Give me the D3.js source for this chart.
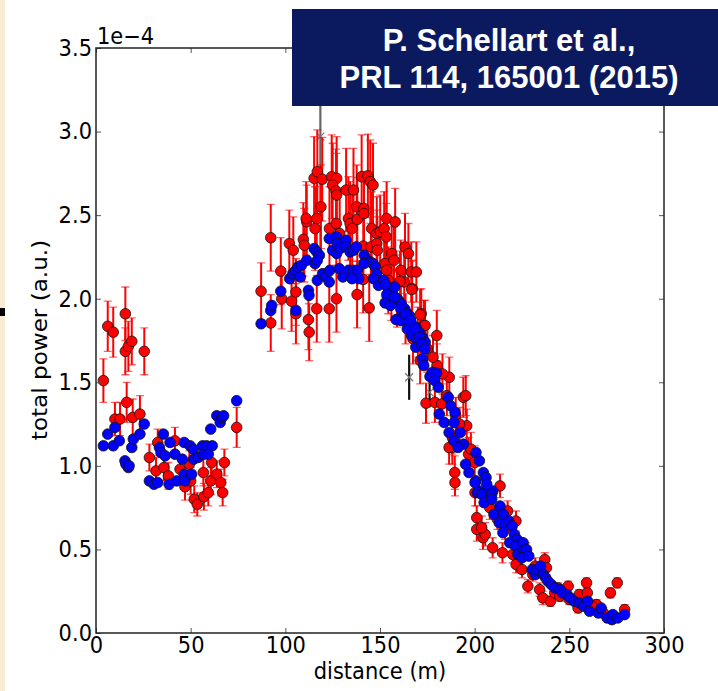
<!DOCTYPE html>
<html>
<head>
<meta charset="utf-8">
<title>total power vs distance</title>
<style>
  body { margin: 0; background: #fff; }
  svg { display: block; }
</style>
</head>
<body>
<svg id="chart" width="718" height="691"></svg>
<script src="https://d3js.org/d3.v7.min.js"></script>
<script>
// values in units of 1e-4, distance in m
// red: [distance, power, error]
const redPoints = [
  [3.9,1.51,0.13],[6.2,1.835,0.15],[9.1,1.80,0.15],[10,1.28,0.10],[12.7,1.28,0.10],[15.5,1.91,0.16],
  [15.5,1.685,0.14],[16.2,1.38,0.12],[17.1,1.715,0.15],[18.9,1.745,0.14],[19.4,1.29,0.11],[23.2,1.31,0.11],
  [25.5,1.685,0.14],[28.2,1.05,0.08],[31.7,0.97,0.08],[32.6,1.14,0.08],[35.9,0.99,0.08],[38.2,0.94,0.08],
  [41.7,1.15,0.08],[44.4,0.98,0.08],[47,0.875,0.08],[49.3,1.01,0.08],[50,0.91,0.08],[51.9,0.80,0.08],
  [53.5,0.77,0.07],[56.7,0.96,0.08],[57,0.815,0.08],[59.3,0.84,0.08],[60.6,0.91,0.08],[61.1,1.02,0.08],
  [63.8,0.95,0.08],[65.9,0.90,0.08],[66.9,0.84,0.08],[67.8,1.02,0.08],[74.3,1.23,0.12],
  [87.2,2.045,0.17],[92.3,2.365,0.2],[92.3,1.855,0.17],[97.6,2.165,0.2],[98.1,2.0,0.18],[102.1,2.33,0.2],
  [104.2,2.29,0.2],[103.3,1.985,0.18],[105.6,2.04,0.2],[105.6,1.91,0.18],[109.5,2.355,0.22],[110,2.32,0.22],
  [111.3,2.46,0.22],[111,2.48,0.22],[112.2,1.875,0.18],[112.6,1.80,0.17],[115.7,2.42,0.25],[116.6,2.48,0.25],
  [115.2,2.72,0.25],[116.9,2.76,0.25],[119.5,2.715,0.25],[118.8,2.55,0.25],[116.6,1.94,0.2],[124.5,2.73,0.25],
  [127.1,2.72,0.25],[125,2.68,0.25],[126.8,2.645,0.25],[127.1,2.62,0.25],[123.3,2.42,0.25],[126.9,2.45,0.25],
  [128.7,2.39,0.25],[132.1,2.65,0.25],[136,2.65,0.25],[133.3,2.48,0.25],[134.2,2.45,0.25],[137.7,2.55,0.25],
  [138,2.475,0.25],[135.3,2.42,0.25],[137.9,2.025,0.2],[140.3,2.73,0.25],[143.6,2.735,0.25],[144.9,2.70,0.25],
  [146.3,2.68,0.25],[141.5,2.54,0.22],[141.5,2.51,0.22],[141.2,2.315,0.22],[144.3,1.945,0.2],[145.6,2.42,0.22],
  [148.3,2.39,0.22],[150.1,2.40,0.22],[152.2,2.42,0.22],[153.3,2.37,0.2],[153.5,2.48,0.22],[158,2.46,0.2],
  [145.2,2.31,0.2],[148.3,2.33,0.2],[148.6,2.29,0.2],[152.6,2.21,0.2],[156.2,2.27,0.2],[157.4,2.23,0.2],
  [153.5,2.17,0.2],[154.4,2.11,0.2],[163.2,2.31,0.2],[165,2.27,0.18],[161,2.17,0.18],[162.8,2.10,0.18],
  [166.5,2.16,0.18],[169.2,2.16,0.18],[167,2.06,0.17],[171.8,1.91,0.15],[173.2,1.84,0.15],[180,1.78,0.15],
  [123.2,1.94,0.2],[127,2.0,0.2],[141.1,2.115,0.2],[160.6,2.105,0.18],[166.8,2.055,0.17],[171.2,1.905,0.15],
  [173.8,1.84,0.15],[163.5,1.88,0.15],[167.4,1.76,0.15],[171.2,1.63,0.14],[174.3,1.375,0.12],[180.1,1.60,0.13],
  [186.6,1.53,0.12],[179,1.38,0.12],[182.6,1.37,0.12],[185.3,1.42,0.12],[194,1.41,0.12],[195.3,1.42,0.12],
  [195.8,1.24,0.1],[188.2,1.11,0.1],[189.5,0.96,0.1],[186.5,1.11,0.1],[196.8,1.07,0.1],[188.2,1.17,0.1],
  [156,2.05,0.18],[159,2.0,0.17],[170,1.8,0.15],[175,1.7,0.14],[178,1.65,0.13],[183,1.55,0.12],
  [190,1.30,0.11],[192,1.25,0.1],[198,1.1,0.1],[200,1.02,0.1],
  [189.6,0.90,0.08],[200.2,0.84,0.08],[201.1,0.69,0.07],[201.1,0.62,0.07],[204.4,0.57,0.07],[205.6,0.59,0.07],
  [203.7,0.63,0.07],[213.4,0.88,0.07],[209.5,0.51,0.06],[214.7,0.48,0.06],[217.4,0.73,0.06],[221.8,0.67,0.06],
  [220.1,0.47,0.05],[221.9,0.41,0.05],[225,0.38,0.05],[227.1,0.49,0.05],[228.1,0.28,0.04],[230.7,0.35,0.04],
  [234.3,0.26,0.04],[236,0.21,0.04],[237,0.44,0.04],[237.9,0.39,0.04],[240,0.19,0.03],[242.3,0.24,0.03],
  [245,0.22,0.03],[249.4,0.28,0.03],[255.2,0.23,0.03],[254.6,0.15,0.03],[259.1,0.30,0.03],[259.5,0.24,0.03],
  [264.4,0.17,0.03],[271.7,0.24,0.03],[275.3,0.30,0.03],[279.2,0.14,0.03],
  [208,0.75,0.07],[212,0.68,0.06],[216,0.62,0.06],[224,0.52,0.05],[232,0.40,0.05],[244,0.27,0.03],
  [250,0.20,0.03],[262,0.16,0.03],[268,0.12,0.03]
];

// blue: [distance, power]
const bluePoints = [
  [3.9,1.12],[6.2,1.19],[9.1,1.12],[10,1.23],[12.3,1.15],[15.3,1.03],[15.8,1.01],[17.1,0.99],[17.5,1.0],
  [18.9,1.11],[19.7,1.16],[23.2,1.19],[25.5,1.25],[28.2,0.91],[30.6,0.89],[32.6,0.90],[33.5,1.11],[35.6,1.19],
  [34.3,1.08],[36.5,1.06],[38.6,0.89],[39.1,1.14],[41.7,1.07],[42.6,0.91],[45.6,1.04],[46.6,1.14],[46.6,0.95],
  [47,0.91],[49.7,1.12],[50.5,0.95],[51.4,1.10],[51.6,1.04],[53.9,1.05],[56.3,1.12],[56.7,1.07],[58.4,1.12],
  [59.3,1.07],[60.6,1.22],[61.4,1.12],[63.8,1.30],[65.6,1.26],[66.5,1.29],[67.4,1.30],[74.3,1.39],
  [87.2,1.85],[92.3,1.93],[92.8,1.96],[97.6,2.045],[102.3,2.12],[104,2.15],[105.5,2.17],[106.7,2.19],
  [108.5,2.20],[107.9,2.13],[105.6,1.93],[111.3,2.23],[112.2,2.05],[112.5,2.02],[115.2,2.30],[116.6,2.28],
  [118,2.26],[115.7,2.21],[116.9,2.23],[116.9,2.11],[119.7,2.15],[121.4,2.13],[123.2,2.10],[123.5,2.17],
  [123.2,2.36],[125,2.29],[127.1,2.37],[127.4,2.33],[127.1,2.27],[128.9,2.30],[128.5,2.18],[130.4,2.13],
  [132.1,2.35],[132.1,2.31],[134.2,2.28],[136,2.29],[137.5,2.31],[133.4,2.17],[136,2.17],[138,2.17],
  [138.7,2.12],[135.2,2.12],[141.7,2.26],[143.2,2.23],[144.9,2.22],[141.5,2.21],[146.3,2.21],[147.5,2.19],
  [148.3,2.15],[146.6,2.12],[149.2,2.08],[152,2.11],[153.3,2.08],[154.6,2.05],[156,2.02],[157.7,2.07],
  [158.5,2.00],[153.7,1.98],[159.8,1.99],[161.2,1.97],[163,1.94],[163.8,1.92],[159.8,1.88],[161.6,1.87],
  [165.4,1.90],[166.2,1.87],[167.1,1.84],[168.9,1.83],[170.6,1.80],[172.4,1.77],[173.9,1.74],
  [152.7,2.085],[153.6,2.025],[152.7,1.975],[155.5,1.96],[157.8,2.01],[158.5,1.875],[160.9,1.94],[160.9,1.87],
  [163.3,1.91],[164.4,1.82],[166.1,1.87],[166.7,1.78],[168.4,1.82],[169.3,1.76],[170.8,1.77],[168.9,1.71],
  [171.9,1.73],[173.7,1.70],[172.4,1.64],[173.1,1.60],[176.4,1.535],[177.8,1.56],[179.9,1.555],[179,1.51],
  [180.8,1.47],[186.1,1.41],[187.3,1.36],[189.6,1.32],[181.3,1.31],[183.9,1.26],[189.1,1.26],[186.5,1.20],
  [192.4,1.20],[189.1,1.15],[194.1,1.13],[191.2,1.11],[200.7,1.08],[202.5,1.03],[195.2,1.01],[197,0.96],
  [204.6,0.96],[206,0.93],[200.7,0.91],[202.5,0.85],[205.2,0.84],[207.8,0.85],[209.6,0.85],
  [200.2,0.90],[201.4,0.84],[203.7,0.83],[205,0.78],[206.4,0.89],[209,0.83],[209,0.80],[210.2,0.71],
  [213.4,0.76],[213,0.66],[215.2,0.71],[216.1,0.64],[214.9,0.60],[218,0.67],[219.8,0.64],[218.5,0.54],
  [221,0.59],[222.4,0.56],[221.5,0.52],[222.8,0.47],[225.6,0.54],[226,0.49],[227.4,0.50],[225,0.45],
  [228.6,0.46],[230.4,0.38],[232.1,0.35],[233,0.38],[234.8,0.40],[236.3,0.35],[237.5,0.33],[238.7,0.31],
  [240.5,0.29],[242.3,0.27],[245.1,0.26],[246.4,0.24],[248.7,0.23],[250.5,0.21],[252.6,0.19],[255.3,0.18],
  [257.6,0.16],[259.7,0.19],[260.7,0.13],[265.3,0.12],[266.8,0.15],[270,0.09],[272.5,0.08],[273,0.11],
  [275.6,0.09],[279.2,0.11]
];

// grey crosses: [distance, power, error]
const crossPoints = [[118.5,2.97,0.7],[165.4,1.53,0.135],[176.2,1.44,0.09]];

const xTicks = [0,50,100,150,200,250,300];
const yTicks = [0,0.5,1.0,1.5,2.0,2.5,3.0,3.5];

const mLeft = 96, mRight = 664, mTop = 48, mBottom = 633;
const stretch = 1.1; // the source figure is slightly stretched vertically

const svg = d3.select("#chart");

// slide background bits on the left edge
svg.append("rect").attr("x",0).attr("y",0).attr("width",5).attr("height",691).attr("fill","#f7ebd3");
svg.append("rect").attr("x",0).attr("y",308).attr("width",5).attr("height",8).attr("fill","#000");

const x = d3.scaleLinear().domain([0,300]).range([mLeft,mRight]);
const y = d3.scaleLinear().domain([0,3.5]).range([mBottom,mTop]);

svg.append("defs").append("clipPath").attr("id","plotclip")
  .append("rect").attr("x",mLeft).attr("y",mTop).attr("width",mRight-mLeft).attr("height",mBottom-mTop);

const plot = svg.append("g").attr("clip-path","url(#plotclip)");

// crosses with their error bars
const cross = plot.append("g");
cross.selectAll("line").data(crossPoints).join("line")
  .attr("x1",d=>x(d[0])).attr("x2",d=>x(d[0]))
  .attr("y1",d=>y(d[1]-d[2])).attr("y2",d=>y(d[1]+d[2]))
  .attr("stroke",(d,i)=>i===0?"#666":"#111").attr("stroke-width",2.2);
cross.selectAll("path").data(crossPoints).join("path")
  .attr("d",d=>{const cx=x(d[0]),cy=y(d[1]),s=4;return `M${cx-s},${cy-s}L${cx+s},${cy+s}M${cx-s},${cy+s}L${cx+s},${cy-s}`;})
  .attr("stroke","#777").attr("stroke-width",1.2).attr("fill","none");

// red error bars
const bars = plot.append("g").attr("stroke","#ff0000");
bars.selectAll("line").data(redPoints).join("line")
  .attr("x1",d=>x(d[0])).attr("x2",d=>x(d[0]))
  .attr("y1",d=>y(d[1]-d[2])).attr("y2",d=>y(d[1]+d[2]))
  .attr("stroke-width",2);
bars.selectAll("path").data(redPoints).join("path")
  .attr("d",d=>{const cx=x(d[0]);return `M${cx-4},${y(d[1]-d[2])}H${cx+4}M${cx-4},${y(d[1]+d[2])}H${cx+4}`;})
  .attr("stroke-width",1.3).attr("stroke-opacity",0.6).attr("fill","none");

plot.append("g").selectAll("circle").data(redPoints).join("circle")
  .attr("cx",d=>x(d[0])).attr("cy",d=>y(d[1])).attr("r",5.3)
  .attr("fill","#ff0000").attr("stroke","#111").attr("stroke-width",0.8);

plot.append("g").selectAll("circle").data(bluePoints).join("circle")
  .attr("cx",d=>x(d[0])).attr("cy",d=>y(d[1])).attr("r",5.3)
  .attr("fill","#0000ff").attr("stroke","#111").attr("stroke-width",0.8);

// axes, ticks pointing inward on all sides
const font = "DejaVu Sans, sans-serif";
const fmt = d3.format(".1f");

const gx = svg.append("g").attr("transform",`translate(0,${mBottom})`)
  .call(d3.axisBottom(x).tickValues(xTicks).tickSize(-5).tickPadding(3).tickFormat(d3.format("d")));
const gy = svg.append("g").attr("transform",`translate(${mLeft},0)`)
  .call(d3.axisLeft(y).tickValues(yTicks).tickSize(-5).tickPadding(4).tickFormat(fmt));
const gt = svg.append("g").attr("transform",`translate(0,${mTop})`)
  .call(d3.axisTop(x).tickValues(xTicks).tickSize(-5).tickFormat(""));
const gr = svg.append("g").attr("transform",`translate(${mRight},0)`)
  .call(d3.axisRight(y).tickValues(yTicks).tickSize(-5).tickFormat(""));

[gx,gy,gt,gr].forEach(g=>{
  g.select(".domain").remove();
  g.selectAll(".tick line").attr("stroke","#555").attr("stroke-width",1);
  g.selectAll(".tick text").attr("fill","#000").attr("transform",`scale(1,${stretch})`)
    .style("font-family",font).style("font-size","21px");
});

svg.append("rect").attr("x",mLeft).attr("y",mTop).attr("width",mRight-mLeft).attr("height",mBottom-mTop)
  .attr("fill","none").attr("stroke","#222").attr("stroke-width",1.5);

svg.append("text").attr("transform",`translate(${mLeft+1},44) scale(1,${stretch})`)
  .style("font-family",font).style("font-size","21px").text("1e\u22124");

svg.append("text").attr("transform",`translate(${(mLeft+mRight)/2},679) scale(1,${stretch})`).attr("text-anchor","middle")
  .style("font-family",font).style("font-size","21px").text("distance (m)");

svg.append("text").attr("transform",`translate(47,340) scale(1,${stretch}) rotate(-90)`).attr("text-anchor","middle")
  .style("font-family",font).style("font-size","21px").text("total power (a.u.)");

// citation banner
svg.append("rect").attr("x",292).attr("y",9).attr("width",426).attr("height",97).attr("fill","#0b1a5e");
const banner = svg.append("text").attr("text-anchor","middle").attr("fill","#fff")
  .style("font-family","Liberation Sans, Arial, sans-serif").style("font-weight","bold").style("font-size","31px");
banner.append("tspan").attr("x",509).attr("y",51).text("P. Schellart et al.,");
banner.append("tspan").attr("x",509).attr("y",88).text("PRL 114, 165001 (2015)");
</script>
</body>
</html>
